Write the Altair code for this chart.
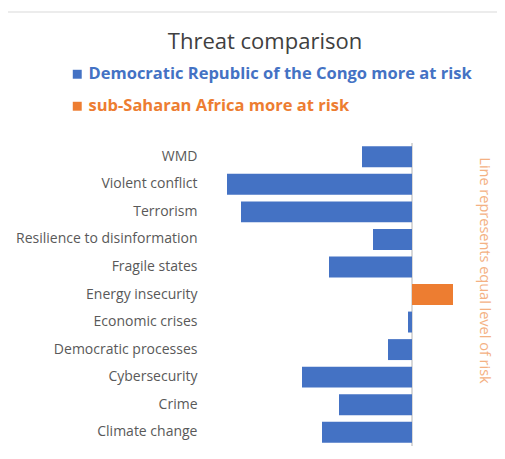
import altair as alt
import pandas as pd

threats = ["WMD", "Violent conflict", "Terrorism", "Resilience to disinformation",
           "Fragile states", "Energy insecurity", "Economic crises",
           "Democratic processes", "Cybersecurity", "Crime", "Climate change"]
values = [-0.50, -1.85, -1.71, -0.39, -0.83, 0.41, -0.04, -0.24, -1.10, -0.73, -0.90]
series_names = ["Democratic Republic of the Congo more at risk", "sub-Saharan Africa more at risk"]
series_colors = ["#4472C4", "#ED7D31"]

df = pd.DataFrame({
    "threat": threats,
    "value": values,
    "series": [series_names[1] if v > 0 else series_names[0] for v in values],
})

W, H = 250, 303
FONT = "Open Sans"

yscale = alt.Scale(domain=threats, paddingInner=0.24, paddingOuter=0.12)
xscale = alt.Scale(domain=[-1.9, 0.6], nice=False, zero=False)

label_expr = "datum.label == '%s' ? '%s' : '%s'" % (series_names[1], series_colors[1], series_colors[0])

base = alt.Chart(df)

bars = base.mark_bar().encode(
    x=alt.X("value:Q", scale=xscale, axis=None),
    y=alt.Y("threat:N", sort=threats, scale=yscale,
            axis=alt.Axis(title=None, ticks=False, domain=False, labelPadding=25,
                          labelFontSize=14, labelColor="#595959", labelFont=FONT,
                          labelLimit=300, grid=False)),
    color=alt.Color("series:N",
                    scale=alt.Scale(domain=series_names, range=series_colors),
                    legend=alt.Legend(title=None, orient="none", legendX=-153, legendY=-77,
                                      direction="vertical", symbolType="square",
                                      symbolSize=80, symbolStrokeWidth=0,
                                      labelFont=FONT, labelFontWeight="bold",
                                      labelFontSize=16.5, rowPadding=15, padding=0,
                                      labelOffset=3, labelLimit=500,
                                      labelColor=alt.ExprRef(expr=label_expr))),
)

zero_rule = base.mark_rule(color="#D9D9D9", strokeWidth=2).encode(
    x=alt.X("zero:Q", scale=xscale, axis=None)
).transform_calculate(zero="0")

side = base.mark_bar(opacity=0).encode(
    x=alt.X("value:Q", scale=xscale, axis=None),
    y=alt.Y("threat:N", sort=threats, scale=yscale,
            axis=alt.Axis(orient="right", labels=False, ticks=False, domain=False,
                          grid=False, title="Line represents equal level of risk",
                          titleAngle=90, titleFont=FONT, titleFontSize=14.5,
                          titleFontWeight="normal", titleColor="#F4B183",
                          titleX=11, titleY=127, titleAlign="center",
                          titleBaseline="middle")),
)

frame = alt.Chart(alt.Data(values=[{"k": 1}])).mark_rule(color="#DCDCDC", strokeWidth=2).encode(
    x=alt.value(-215), y=alt.value(-131), y2=alt.value(H + 30)
)
frame_top = alt.Chart(alt.Data(values=[{"k": 1}])).mark_rule(color="#E6E6E6", strokeWidth=1.5).encode(
    x=alt.value(-215), x2=alt.value(W + 40), y=alt.value(-131)
)

chart = alt.layer(zero_rule, bars, side, frame, frame_top).resolve_axis(y="independent").properties(
    width=W, height=H,
    padding={"left": 214, "top": 135, "right": 25, "bottom": 5},
    autosize=alt.AutoSizeParams(type="none"),
    title=alt.TitleParams("Threat comparison", anchor="middle", dx=-82, fontSize=22,
                          font=FONT, fontWeight="normal", color="#404040", offset=-43),
).configure_view(stroke=None)

chart.save("out.html", embed_options={"renderer": "svg", "actions": False})
